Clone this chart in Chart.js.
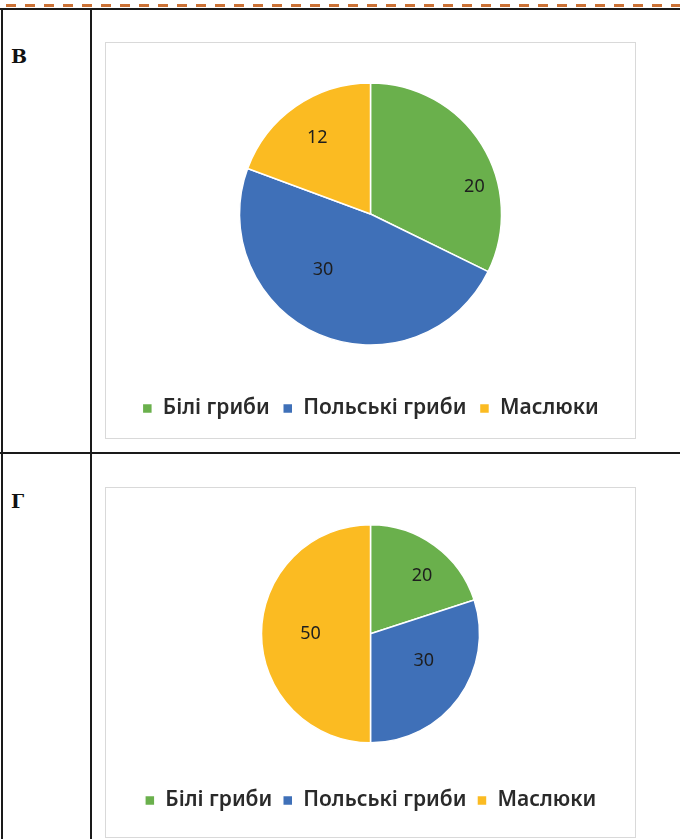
<!DOCTYPE html>
<html>
<head>
<meta charset="utf-8">
<script src="https://cdn.jsdelivr.net/npm/chart.js@4"></script>
<style>
  body { margin: 0; width: 680px; height: 839px; background: #fff; position: relative; overflow: hidden; }
  .dash { position: absolute; left: 6px; top: 4px; width: 680px; height: 3px;
    background: repeating-linear-gradient(90deg, #c5621f 0 10px, transparent 10px 19px); opacity: 0.9; }
  .line { position: absolute; background: #1a1a1a; }
  .lbl { position: absolute; left: 11px; font: bold 19px "DejaVu Serif", "Liberation Serif", serif; color: #111; }
  .box { position: absolute; left: 105px; width: 529px; border: 1.5px solid #d9d9d9; background: #fff; }
</style>
</head>
<body>
<div class="dash"></div>
<div class="line" style="left:0;top:8px;width:680px;height:2px"></div>
<div class="line" style="left:1px;top:8px;width:2px;height:831px"></div>
<div class="line" style="left:90px;top:8px;width:2px;height:831px"></div>
<div class="line" style="left:0;top:452px;width:680px;height:2px"></div>
<div class="lbl" style="top:45px">В</div>
<div class="lbl" style="top:490px">Г</div>

<div class="box" style="top:42px;height:395px"><canvas id="chartV"></canvas></div>
<div class="box" style="top:487px;height:349px"><canvas id="chartG"></canvas></div>

<script>
// data
const categories = ["Білі гриби", "Польські гриби", "Маслюки"];
const valuesV = [20, 30, 12];
const valuesG = [20, 30, 50];
const sliceColors = ["#6ab04c", "#3f70b8", "#fbbb22"];

// draws the value inside each slice
const sliceLabels = {
  id: "sliceLabels",
  afterDatasetsDraw(chart, args, opts) {
    const ctx = chart.ctx;
    const meta = chart.getDatasetMeta(0);
    const vals = chart.data.datasets[0].data;
    ctx.save();
    ctx.font = "18px 'Noto Sans', 'Open Sans', sans-serif";
    ctx.fillStyle = "#1e1e1e";
    ctx.textAlign = "center";
    ctx.textBaseline = "middle";
    meta.data.forEach((arc, i) => {
      const p = arc.getProps(["x", "y", "startAngle", "endAngle", "outerRadius"], true);
      const mid = (p.startAngle + p.endAngle) / 2 + (opts.shift[i] || 0);
      const r = p.outerRadius * opts.radius[i];
      ctx.fillText(vals[i], p.x + Math.cos(mid) * r, p.y + Math.sin(mid) * r);
    });
    ctx.restore();
  }
};

function makePie(id, values, radius, bottomPad, legendPad, labelRadius, labelShift) {
  return new Chart(document.getElementById(id), {
    type: "pie",
    data: {
      labels: categories,
      datasets: [{
        data: values,
        backgroundColor: sliceColors,
        borderColor: "#ffffff",
        borderWidth: 1.5
      }]
    },
    options: {
      responsive: true,
      maintainAspectRatio: false,
      animation: false,
      radius: radius,
      layout: { padding: { top: 0, bottom: bottomPad, left: 0, right: 0 } },
      plugins: {
        legend: {
          position: "bottom",
          labels: {
            boxWidth: 10,
            boxHeight: 10,
            padding: legendPad,
            color: "#2a2a2a",
            font: { family: "'Noto Sans', 'Open Sans', sans-serif", size: 21, weight: "600" }
          }
        },
        tooltip: { enabled: false },
        sliceLabels: { radius: labelRadius, shift: labelShift }
      }
    },
    plugins: [sliceLabels]
  });
}

makePie("chartV", valuesV, 131, 9, 13, [0.82, 0.56, 0.71], [0.3, 0.3, 0]);
makePie("chartG", valuesG, 109, 16, 10.5, [0.71, 0.55, 0.55], [0.1, -0.15, 0]);
</script>
</body>
</html>
